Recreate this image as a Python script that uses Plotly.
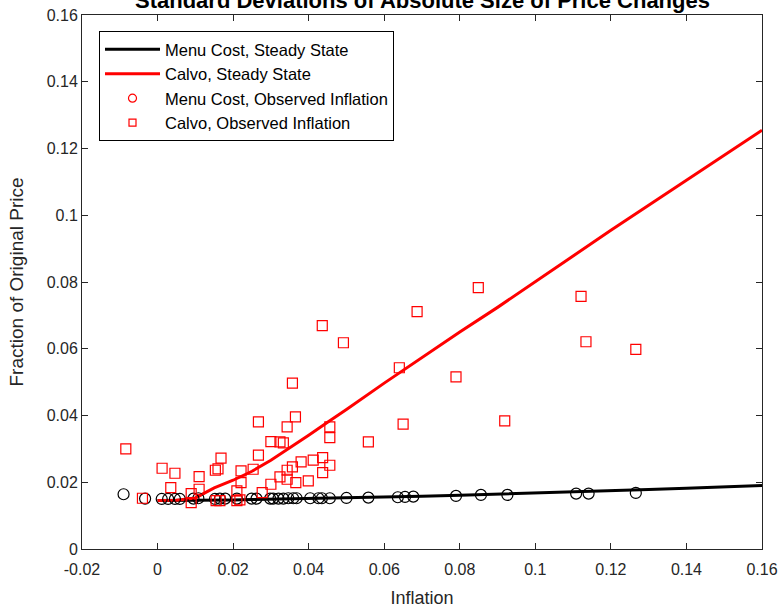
import plotly.graph_objects as go

# Steady-state curves
ss_x = [0, 0.005, 0.01, 0.015, 0.02, 0.025, 0.03, 0.035, 0.04, 0.045, 0.05,
        0.06, 0.07, 0.08, 0.09, 0.10, 0.11, 0.12, 0.13, 0.14, 0.15, 0.16]
menu_ss = [0.0145, 0.0145, 0.0146, 0.0146, 0.0147, 0.0148, 0.0149, 0.0149, 0.0150, 0.0151, 0.0152,
           0.0155, 0.0158, 0.0161, 0.0164, 0.0167, 0.0170, 0.0174, 0.0178, 0.0182, 0.0186, 0.0190]
calvo_ss = [0.0145, 0.0146, 0.0153, 0.0183, 0.0206, 0.0233, 0.0266, 0.0303, 0.0341, 0.0380, 0.0418,
            0.0497, 0.0574, 0.0650, 0.0724, 0.0800, 0.0878, 0.0955, 0.1030, 0.1105, 0.1180, 0.1255]

# Menu cost, observed inflation
menu_obs_x = [-0.0090, -0.0033, 0.0011, 0.0028, 0.0046, 0.0059, 0.0095, 0.0108, 0.0152, 0.0165,
              0.0179, 0.0210, 0.0249, 0.0262, 0.0298, 0.0306, 0.0320, 0.0333, 0.0346, 0.0359,
              0.0368, 0.0404, 0.0426, 0.0435, 0.0456, 0.0500, 0.0558, 0.0636, 0.0655, 0.0677,
              0.0790, 0.0856, 0.0926, 0.1108, 0.1141, 0.1266]
menu_obs_y = [0.0164, 0.0151, 0.0150, 0.0150, 0.0150, 0.0150, 0.0151, 0.0152, 0.0150, 0.0151,
              0.0151, 0.0151, 0.0151, 0.0151, 0.0151, 0.0151, 0.0151, 0.0151, 0.0152, 0.0152,
              0.0152, 0.0152, 0.0152, 0.0152, 0.0152, 0.0153, 0.0154, 0.0155, 0.0156, 0.0157,
              0.0159, 0.0162, 0.0162, 0.0166, 0.0166, 0.0168]

# Calvo, observed inflation
calvo_obs_x = [-0.0084, -0.0040, 0.0012, 0.0046, 0.0035, 0.0089, 0.0089, 0.0110, 0.0110, 0.0153,
               0.0160, 0.0168, 0.0155, 0.0165, 0.0210, 0.0210, 0.0218, 0.0221, 0.0221, 0.0267,
               0.0267, 0.0253, 0.0277, 0.0300, 0.0324, 0.0333, 0.0300, 0.0324, 0.0343, 0.0343,
               0.0343, 0.0357, 0.0366, 0.0380, 0.0399, 0.0412, 0.0437, 0.0437, 0.0456, 0.0456,
               0.0456, 0.0436, 0.0492, 0.0357, 0.0365, 0.0558, 0.0640, 0.0687, 0.0849, 0.1121,
               0.1134, 0.1266, 0.0790, 0.0650, 0.0919]
calvo_obs_y = [0.0300, 0.0152, 0.0242, 0.0227, 0.0184, 0.0166, 0.0139, 0.0217, 0.0179, 0.0236,
               0.0240, 0.0272, 0.0145, 0.0145, 0.0174, 0.0145, 0.0147, 0.0234, 0.0199, 0.0281,
               0.0381, 0.0239, 0.0169, 0.0322, 0.0321, 0.0318, 0.0194, 0.0216, 0.0366, 0.0236,
               0.0209, 0.0246, 0.0199, 0.0261, 0.0204, 0.0266, 0.0274, 0.0229, 0.0366, 0.0334,
               0.0251, 0.0669, 0.0618, 0.0497, 0.0396, 0.0321, 0.0543, 0.0711, 0.0783, 0.0757,
               0.0621, 0.0598, 0.0516, 0.0374, 0.0384]

x_ticks = [-0.02, 0, 0.02, 0.04, 0.06, 0.08, 0.10, 0.12, 0.14, 0.16]
x_labels = ["-0.02", "0", "0.02", "0.04", "0.06", "0.08", "0.1", "0.12", "0.14", "0.16"]
y_ticks = [0, 0.02, 0.04, 0.06, 0.08, 0.10, 0.12, 0.14, 0.16]
y_labels = ["0", "0.02", "0.04", "0.06", "0.08", "0.1", "0.12", "0.14", "0.16"]

FONT = "Liberation Sans, Arial, Helvetica, sans-serif"
AX = "#262626"

fig = go.Figure()
fig.add_trace(go.Scatter(x=ss_x, y=menu_ss, mode="lines", name="Menu Cost, Steady State",
                         line=dict(color="black", width=3)))
fig.add_trace(go.Scatter(x=ss_x, y=calvo_ss, mode="lines", name="Calvo, Steady State",
                         line=dict(color="red", width=3)))
fig.add_trace(go.Scatter(x=menu_obs_x, y=menu_obs_y, mode="markers", showlegend=False,
                         marker=dict(symbol="circle-open", color="black", size=11,
                                     line=dict(width=1.2, color="black"))))
fig.add_trace(go.Scatter(x=calvo_obs_x, y=calvo_obs_y, mode="markers", showlegend=False,
                         marker=dict(symbol="square-open", color="red", size=10,
                                     line=dict(width=1.2, color="red"))))
# legend entries
fig.add_trace(go.Scatter(x=[None], y=[None], mode="markers", name="Menu Cost, Observed Inflation",
                         marker=dict(symbol="circle-open", color="red", size=8,
                                     line=dict(width=1.2, color="red"))))
fig.add_trace(go.Scatter(x=[None], y=[None], mode="markers", name="Calvo, Observed Inflation",
                         marker=dict(symbol="square-open", color="red", size=7,
                                     line=dict(width=1.2, color="red"))))

fig.update_layout(
    width=782, height=609,
    margin=dict(l=82, r=20, t=15, b=60),
    paper_bgcolor="white", plot_bgcolor="white",
    font=dict(family=FONT, color=AX),
    showlegend=True,
    legend=dict(x=0.025, y=0.97, xanchor="left", yanchor="top",
                bgcolor="white", bordercolor="black", borderwidth=1,
                font=dict(size=16.5, color="black", family=FONT),
                itemwidth=55, tracegroupgap=0),
    xaxis=dict(range=[-0.02, 0.16], tickvals=x_ticks, ticktext=x_labels, automargin=False,
               showgrid=False, zeroline=False, showline=True, linecolor=AX, linewidth=1,
               mirror="ticks", ticks="inside", ticklen=6, tickcolor=AX,
               tickfont=dict(size=16, color=AX), ticklabelstandoff=6,
               title=dict(text="Inflation", font=dict(size=18, color=AX), standoff=14)),
    yaxis=dict(range=[0, 0.16], tickvals=y_ticks, ticktext=y_labels, automargin=False,
               showgrid=False, zeroline=False, showline=True, linecolor=AX, linewidth=1,
               mirror="ticks", ticks="inside", ticklen=6, tickcolor=AX,
               tickfont=dict(size=16, color=AX),
               title=dict(text="Fraction of Original Price", font=dict(size=19, color=AX), standoff=18)),
    annotations=[dict(text="<b>Standard Deviations of Absolute Size of Price Changes</b>",
                      xref="paper", yref="paper", x=0.5, y=1, xanchor="center", yanchor="bottom",
                      yshift=0, showarrow=False,
                      font=dict(size=22, color="black", family=FONT))],
)

fig.write_html("out.html")
